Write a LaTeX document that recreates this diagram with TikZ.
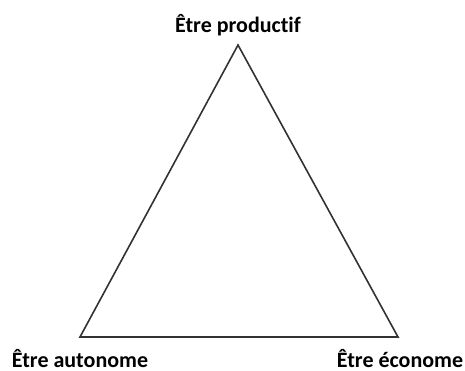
\documentclass[tikz,border=0pt]{standalone}
\usepackage{fontspec}
\setmainfont[Ligatures=NoCommon]{Carlito}
\usepackage{tikz}
\usetikzlibrary{positioning}
\definecolor{trigray}{RGB}{50,50,50}

\begin{document}
\begin{tikzpicture}[x=1pt, y=-1pt,
  pole/.style={font=\fontsize{22}{26}\selectfont\bfseries, text=black, inner sep=0pt, anchor=base}]
\useasboundingbox (0,0) rectangle (465,371);
% Corners of the triangle
\coordinate (prod) at (238,45);
\coordinate (auto) at (80,337);
\coordinate (eco) at (398,337);
\draw[trigray, line width=1.6pt, line join=miter] (prod) -- (eco) -- (auto) -- cycle;
% Labels
\node[pole] (lprod) at (238,33) {Être productif};
\node[pole] (lauto) at (80,367) {Être autonome};
\node[pole] (leco) at (400,367) {Être économe};
\end{tikzpicture}
\end{document}
